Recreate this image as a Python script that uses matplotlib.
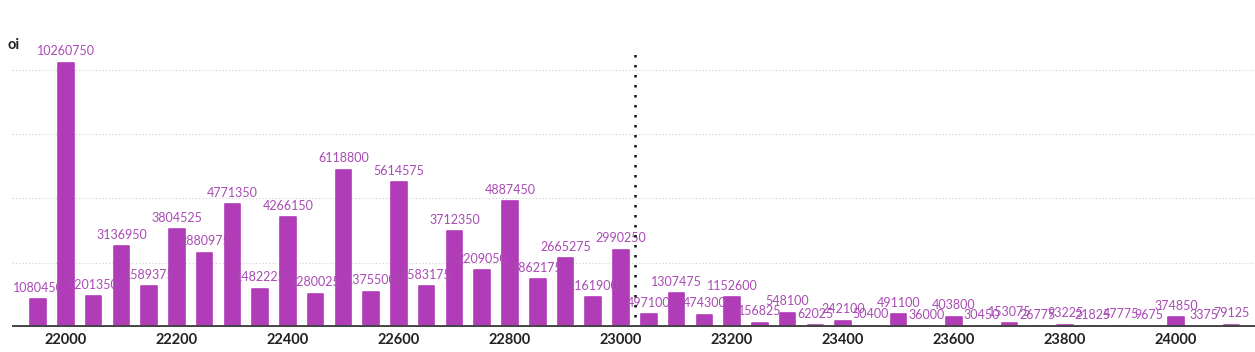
import matplotlib
matplotlib.use("Agg")
import matplotlib.pyplot as plt

strikes = [21950, 22000, 22050, 22100, 22150, 22200, 22250, 22300, 22350, 22400,
           22450, 22500, 22550, 22600, 22650, 22700, 22750, 22800, 22850, 22900,
           22950, 23000, 23050, 23100, 23150, 23200, 23250, 23300, 23350, 23400,
           23450, 23500, 23550, 23600, 23650, 23700, 23750, 23800, 23850, 23900,
           23950, 24000, 24050, 24100]
oi = [1080450, 10260750, 1201350, 3136950, 1589375, 3804525, 2880975, 4771350, 1482225, 4266150,
      1280025, 6118800, 1375500, 5614575, 1583175, 3712350, 2209050, 4887450, 1862175, 2665275,
      1161900, 2990250, 497100, 1307475, 474300, 1152600, 156825, 548100, 62025, 242100,
      50400, 491100, 36000, 403800, 30450, 153075, 26775, 93225, 21825, 47775,
      9675, 374850, 3375, 79125]
xticks = [22000, 22200, 22400, 22600, 22800, 23000, 23200, 23400, 23600, 23800, 24000]
grid_levels = [2500000, 5000000, 7500000, 10000000]
spot = 23025

plt.rcParams['font.family'] = ['Lato', 'DejaVu Sans']

W, H = 1255, 352
fig = plt.figure(figsize=(W / 100, H / 100), dpi=100)
ax = fig.add_axes([12 / W, 25 / H, (W - 12) / W, 287 / H])

bar_color = '#b03cb7'
label_color = '#a94bb4'

for g in grid_levels:
    ax.axhline(g, color='#cfcfcf', lw=0.8, ls=(0, (1, 2)), zorder=0)

ax.bar(strikes, oi, width=28, color=bar_color, edgecolor=bar_color, linewidth=1.2,
       joinstyle='round', zorder=2)

for x, v in zip(strikes, oi):
    ax.annotate(str(v), (x, v), xytext=(0, 4), textcoords='offset points',
                ha='center', va='bottom', fontsize=9, color=label_color, zorder=3)

ax.vlines(spot, 0, 10.77e6, colors='#111111', lw=1.8, linestyles=(0, (1, 3)), zorder=4)
ax.axhline(0, color='#444444', lw=2.8, zorder=5)

ax.set_xlim(21903, 24142)
ax.set_ylim(0, 11.15e6)
ax.set_xticks(xticks)
ax.set_xticklabels([str(t) for t in xticks], fontsize=10.5, fontweight='bold', color='#222222')
ax.tick_params(axis='x', length=0, pad=4)
ax.set_yticks([])
for s in ax.spines.values():
    s.set_visible(False)

fig.text(8 / W, 1 - 45 / H, 'oi', fontsize=10.5, fontweight='bold', color='#222222', va='center')

fig.savefig('out.png', dpi=100)
